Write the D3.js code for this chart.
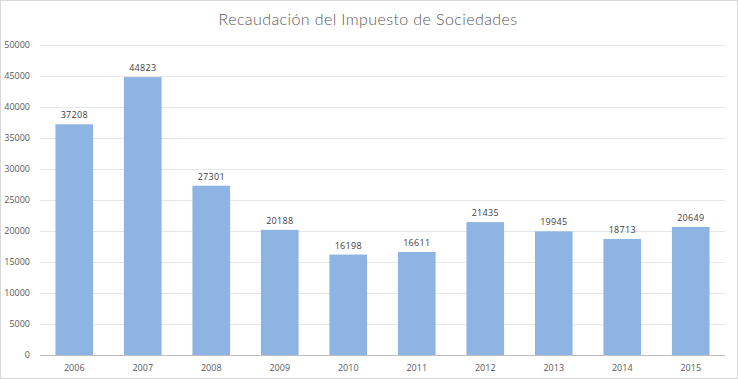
<!DOCTYPE html>
<html>
<head>
<meta charset="utf-8">
<script src="https://cdn.jsdelivr.net/npm/d3@7"></script>
<style>
  html, body { margin: 0; padding: 0; background: #fff; }
  #chart { width: 738px; height: 379px; }
  svg text { font-family: "Open Sans", "DejaVu Sans", sans-serif; }
</style>
</head>
<body>
<div id="chart"></div>
<script>
const years = ['2006', '2007', '2008', '2009', '2010', '2011', '2012', '2013', '2014', '2015'];
const recaudacion = [37208, 44823, 27301, 20188, 16198, 16611, 21435, 19945, 18713, 20649];
const yTicks = [0, 5000, 10000, 15000, 20000, 25000, 30000, 35000, 40000, 45000, 50000];
const title = 'Recaudación del Impuesto de Sociedades';

const W = 738, H = 379;
const margin = { top: 45, right: 13, bottom: 24, left: 40 };

const svg = d3.select('#chart').append('svg')
  .attr('width', W).attr('height', H);

svg.append('rect')
  .attr('x', 0.5).attr('y', 0.5).attr('width', W - 1).attr('height', H - 1)
  .attr('fill', '#fff').attr('stroke', '#d9d9d9');

const x = d3.scaleBand().domain(years).range([margin.left, W - margin.right]).paddingInner(0.45).paddingOuter(0.225);
const y = d3.scaleLinear().domain([0, 50000]).range([H - margin.bottom, margin.top]);

// Gridlines + y labels
svg.append('g')
  .attr('transform', `translate(${margin.left},0)`)
  .call(d3.axisLeft(y).tickValues(yTicks).tickSize(-(W - margin.left - margin.right)).tickPadding(10).tickFormat(d3.format('d')))
  .call(a => a.select('.domain').remove())
  .call(a => a.selectAll('.tick line').attr('stroke', d => d === 0 ? '#bfbfbf' : '#e6e6e6'))
  .call(a => a.selectAll('.tick text').attr('fill', '#595959').attr('font-size', 9));

// Bars
svg.append('g').selectAll('rect')
  .data(recaudacion)
  .join('rect')
  .attr('x', (d, i) => x(years[i]))
  .attr('y', d => y(d))
  .attr('width', x.bandwidth())
  .attr('height', d => y(0) - y(d))
  .attr('fill', '#8db4e2');

// Zero line on top
svg.append('line')
  .attr('x1', margin.left).attr('x2', W - margin.right)
  .attr('y1', y(0) + 0.5).attr('y2', y(0) + 0.5)
  .attr('stroke', '#bfbfbf');

// Value labels
svg.append('g').selectAll('text')
  .data(recaudacion)
  .join('text')
  .attr('x', (d, i) => x(years[i]) + x.bandwidth() / 2)
  .attr('y', d => y(d) - 6)
  .attr('text-anchor', 'middle')
  .attr('font-size', 9)
  .attr('letter-spacing', 0.3)
  .attr('fill', '#404040')
  .text(d => d);

// X axis labels
svg.append('g')
  .attr('transform', `translate(0,${y(0)})`)
  .call(d3.axisBottom(x).tickSize(0).tickPadding(10))
  .call(a => a.select('.domain').remove())
  .call(a => a.selectAll('.tick text').attr('fill', '#595959').attr('font-size', 9));

// Title
svg.append('text')
  .attr('x', 368).attr('y', 25)
  .attr('text-anchor', 'middle')
  .attr('font-size', 16)
  .attr('font-weight', 300)
  .attr('letter-spacing', 0.4)
  .attr('fill', '#595959')
  .style('font-family', 'Lato, "Open Sans", sans-serif')
  .text(title);
</script>
</body>
</html>
